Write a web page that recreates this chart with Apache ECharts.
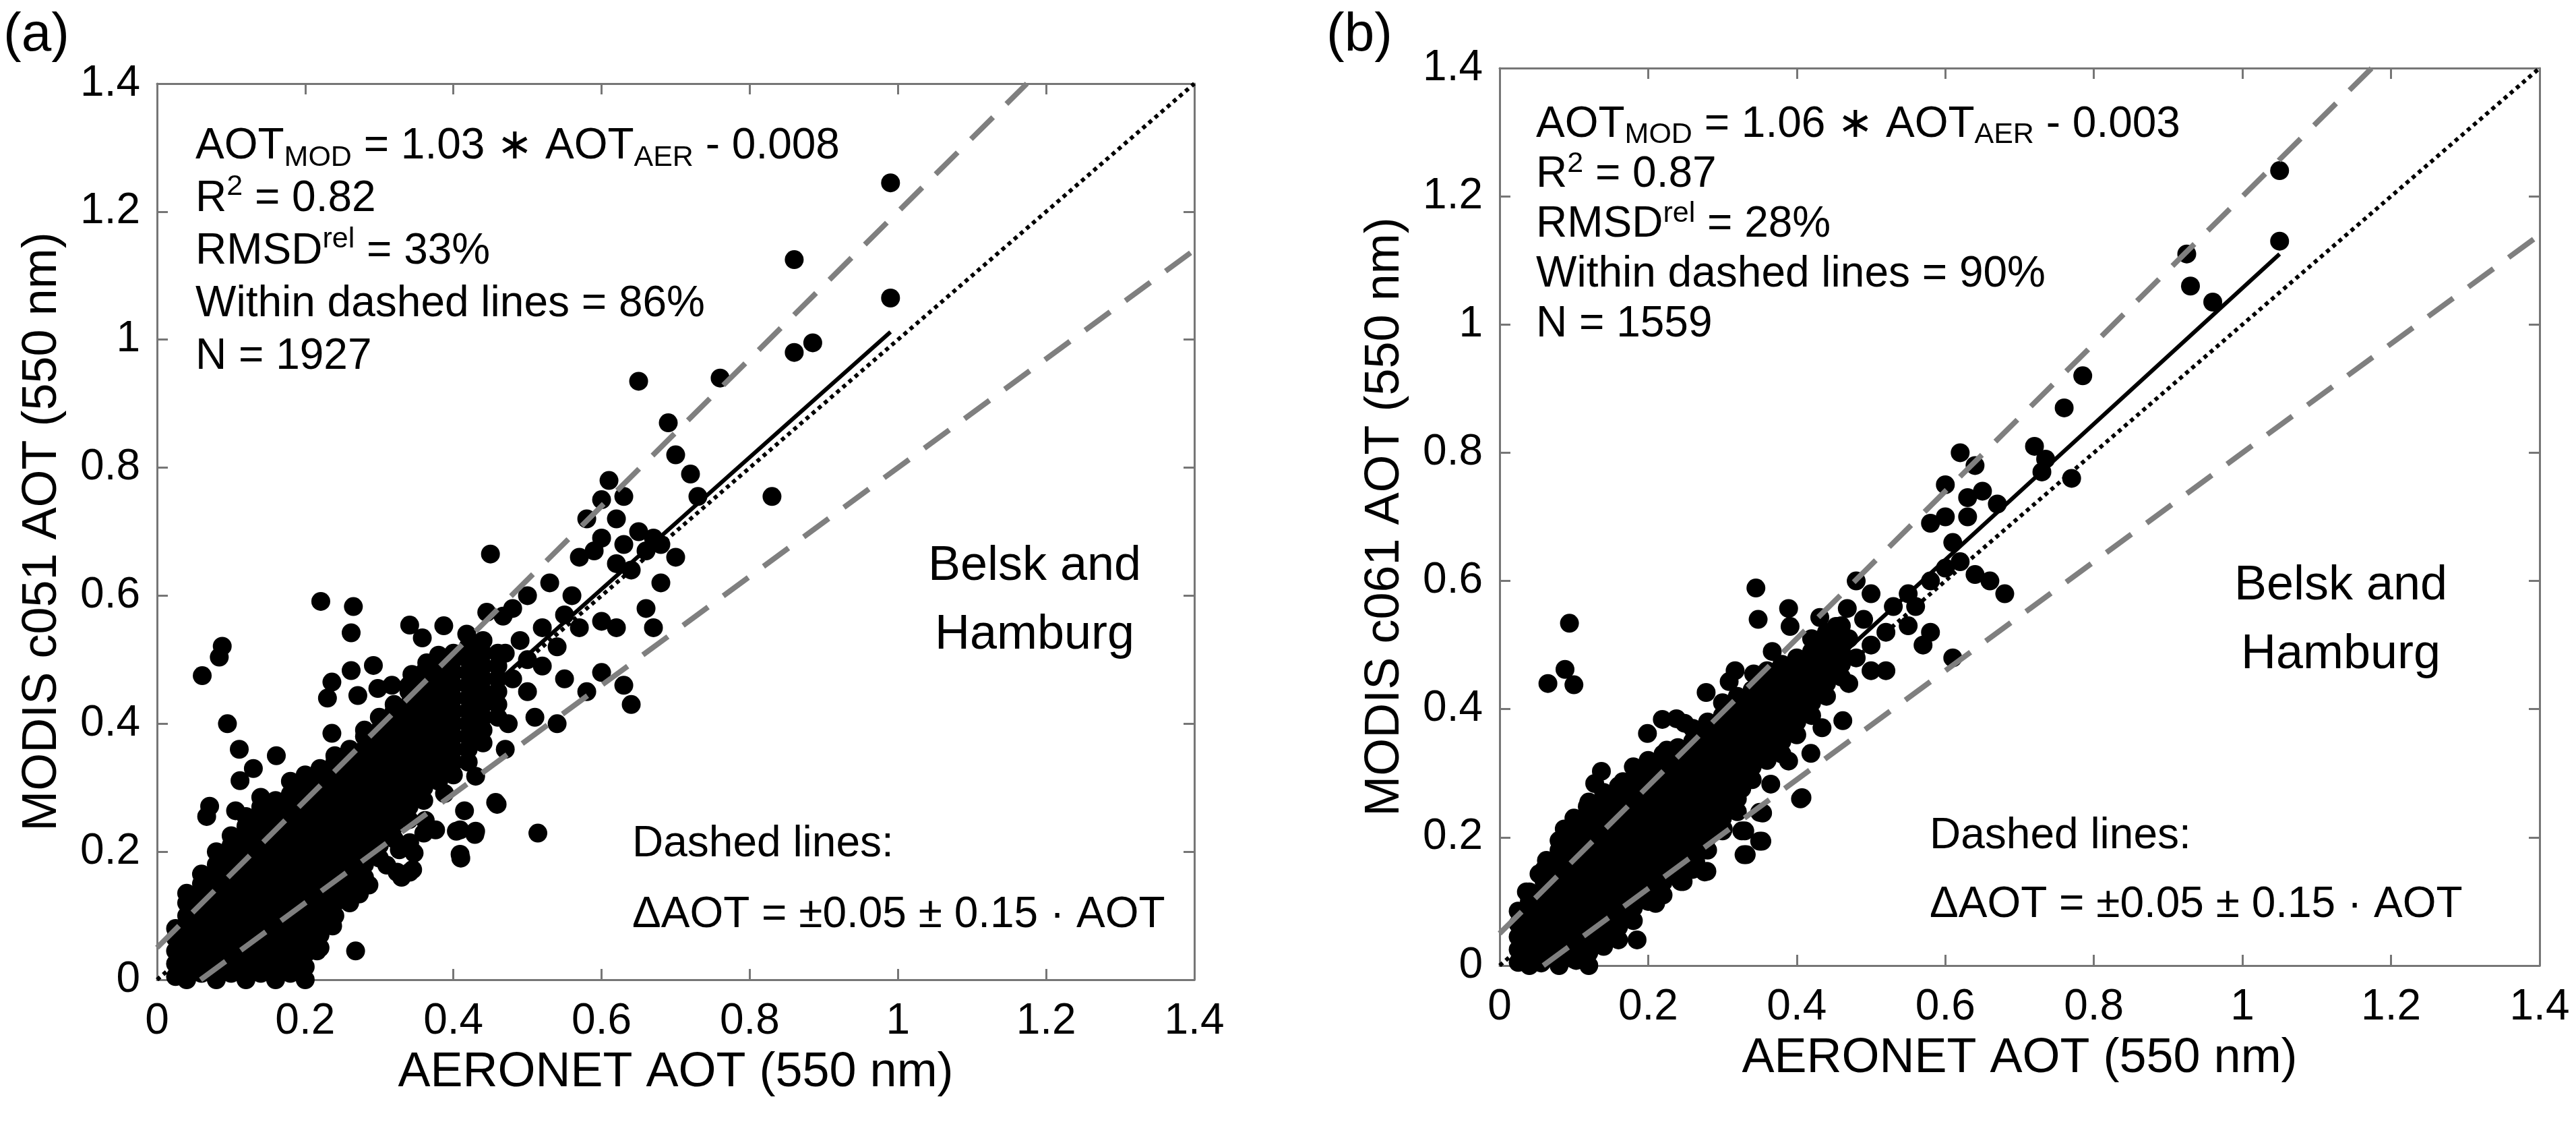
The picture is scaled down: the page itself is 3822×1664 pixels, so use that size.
<!DOCTYPE html>
<html><head><meta charset="utf-8">
<script src="https://cdn.jsdelivr.net/npm/echarts@6/dist/echarts.min.js"></script>
<style>html,body{margin:0;padding:0;background:#fff}#c{width:3822px;height:1664px}</style>
</head><body><div id="c"></div><script>
// ---- axis range / ticks ----
const axisMin = 0, axisMax = 1.4, tickStep = 0.2;

// ---- panel (a): dense core, columns [x, y1, y2, ...] ----
const coreA = [
[0.025,0.005,0.025,0.045,0.065,0.08],
[0.04,0.0,0.02,0.04,0.06,0.08,0.10,0.12,0.135],
[0.06,0.01,0.03,0.05,0.07,0.09,0.11,0.13,0.15,0.165],
[0.08,0.0,0.02,0.04,0.06,0.08,0.10,0.12,0.14,0.16,0.18,0.20],
[0.10,0.01,0.03,0.05,0.07,0.09,0.11,0.13,0.15,0.17,0.19,0.21,0.225],
[0.12,0.0,0.02,0.04,0.06,0.08,0.10,0.12,0.14,0.16,0.18,0.20,0.22,0.24,0.255],
[0.14,0.01,0.03,0.05,0.07,0.09,0.11,0.13,0.15,0.17,0.19,0.21,0.23,0.25,0.27,0.285],
[0.16,0.0,0.02,0.04,0.06,0.08,0.10,0.12,0.14,0.16,0.18,0.20,0.22,0.24,0.26,0.28],
[0.18,0.01,0.03,0.05,0.07,0.09,0.11,0.13,0.15,0.17,0.19,0.21,0.23,0.25,0.27,0.29,0.31],
[0.20,0.0,0.02,0.04,0.06,0.08,0.10,0.12,0.14,0.16,0.18,0.20,0.22,0.24,0.26,0.28,0.30,0.32],
[0.22,0.05,0.07,0.09,0.11,0.13,0.15,0.17,0.19,0.21,0.23,0.25,0.27,0.29,0.31,0.33],
[0.24,0.10,0.12,0.14,0.16,0.18,0.20,0.22,0.24,0.26,0.28,0.30,0.32,0.34,0.35],
[0.26,0.12,0.13,0.15,0.17,0.19,0.21,0.23,0.25,0.27,0.29,0.31,0.33,0.35,0.36],
[0.28,0.15,0.16,0.18,0.20,0.22,0.24,0.26,0.28,0.30,0.32,0.34,0.36,0.38,0.39],
[0.30,0.19,0.21,0.23,0.25,0.27,0.29,0.31,0.33,0.35,0.37,0.39,0.41],
[0.32,0.22,0.24,0.26,0.28,0.30,0.32,0.34,0.36,0.38,0.40,0.42,0.43],
[0.34,0.25,0.27,0.29,0.31,0.33,0.35,0.37,0.39,0.41,0.43,0.45,0.46],
[0.36,0.28,0.30,0.32,0.34,0.36,0.38,0.40,0.42,0.44,0.46,0.48],
[0.38,0.31,0.33,0.35,0.37,0.39,0.41,0.43,0.45,0.47,0.49],
[0.40,0.32,0.34,0.36,0.38,0.40,0.42,0.44,0.46,0.48,0.50,0.51],
[0.42,0.34,0.36,0.38,0.40,0.42,0.44,0.46,0.48,0.50,0.52],
[0.44,0.37,0.39,0.41,0.43,0.45,0.47,0.49,0.51,0.53],
[0.46,0.41,0.43,0.45,0.47,0.49,0.51]
];
// ---- panel (a): scattered points ----
const looseA = [
[0.221,0.591],[0.265,0.583],[0.262,0.542],[0.088,0.521],[0.084,0.504],[0.061,0.475],
[0.341,0.554],[0.358,0.534],[0.387,0.553],[0.418,0.540],[0.445,0.574],[0.467,0.568],
[0.292,0.491],[0.262,0.483],[0.236,0.465],[0.230,0.440],[0.271,0.444],[0.298,0.455],[0.317,0.460],
[0.344,0.477],[0.364,0.495],[0.380,0.507],[0.095,0.400],[0.111,0.360],[0.161,0.350],[0.130,0.330],[0.112,0.311],
[0.236,0.385],[0.071,0.271],[0.067,0.255],[0.106,0.264],
[0.459,0.274],[0.410,0.190],[0.429,0.227],[0.409,0.234],[0.376,0.234],[0.360,0.229],[0.415,0.264],
[0.347,0.198],[0.324,0.168],[0.345,0.172],[0.327,0.203],[0.286,0.148],[0.273,0.134],[0.251,0.131],
[0.430,0.318],[0.455,0.435],[0.474,0.400],[0.470,0.360],
[0.514,0.229],[0.268,0.045],[0.404,0.232],[0.409,0.196],[0.430,0.232],[0.457,0.277],[0.341,0.168],[0.330,0.160],
[0.237,0.084],[0.216,0.045],[0.247,0.130],[0.279,0.154],[0.310,0.179],[0.341,0.214],[0.362,0.249],[0.388,0.291],
[0.99,1.245],[0.99,1.065],[0.86,1.125],[0.86,0.98],[0.885,0.995],[0.83,0.755],[0.76,0.94],[0.65,0.935],
[0.69,0.87],[0.70,0.82],[0.72,0.79],[0.73,0.755],
[0.61,0.78],[0.63,0.755],[0.60,0.75],[0.58,0.72],[0.62,0.72],[0.65,0.70],[0.67,0.69],[0.60,0.69],[0.59,0.67],
[0.63,0.68],[0.66,0.67],[0.68,0.68],[0.57,0.66],[0.62,0.65],[0.64,0.64],[0.70,0.66],
[0.56,0.60],[0.53,0.62],[0.50,0.60],[0.48,0.58],[0.55,0.57],[0.57,0.55],[0.60,0.56],[0.62,0.55],[0.66,0.58],[0.68,0.62],
[0.55,0.47],[0.58,0.45],[0.60,0.48],[0.63,0.46],[0.64,0.43],[0.67,0.55],
[0.45,0.665],[0.52,0.55],[0.50,0.50],[0.48,0.47],[0.50,0.45],[0.52,0.49],[0.54,0.52],[0.49,0.53],[0.47,0.51],[0.51,0.41],[0.54,0.40]
];

// ---- panel (b): dense core ----
const coreB = [
[0.025,0.005,0.025,0.045,0.065,0.085],
[0.04,0.0,0.02,0.04,0.06,0.08,0.10,0.115],
[0.06,0.01,0.03,0.05,0.07,0.09,0.11,0.13,0.15],
[0.08,0.0,0.02,0.04,0.06,0.08,0.10,0.12,0.14,0.16,0.18,0.195],
[0.10,0.01,0.03,0.05,0.07,0.09,0.11,0.13,0.15,0.17,0.19,0.21,0.23],
[0.12,0.0,0.02,0.04,0.06,0.08,0.10,0.12,0.14,0.16,0.18,0.20,0.22,0.24,0.255],
[0.14,0.03,0.05,0.07,0.09,0.11,0.13,0.15,0.17,0.19,0.21,0.23,0.25,0.27],
[0.16,0.04,0.06,0.08,0.10,0.12,0.14,0.16,0.18,0.20,0.22,0.24,0.26,0.28],
[0.18,0.07,0.09,0.11,0.13,0.15,0.17,0.19,0.21,0.23,0.25,0.27,0.29,0.31],
[0.20,0.10,0.12,0.14,0.16,0.18,0.20,0.22,0.24,0.26,0.28,0.30,0.32],
[0.22,0.11,0.13,0.15,0.17,0.19,0.21,0.23,0.25,0.27,0.29,0.31,0.33],
[0.24,0.14,0.16,0.18,0.20,0.22,0.24,0.26,0.28,0.30,0.32,0.34],
[0.26,0.15,0.17,0.19,0.21,0.23,0.25,0.27,0.29,0.31,0.33,0.35,0.37],
[0.28,0.18,0.20,0.22,0.24,0.26,0.28,0.30,0.32,0.34,0.36,0.38],
[0.30,0.21,0.23,0.25,0.27,0.29,0.31,0.33,0.35,0.37,0.39,0.41],
[0.32,0.24,0.26,0.28,0.30,0.32,0.34,0.36,0.38,0.40,0.42],
[0.34,0.29,0.31,0.33,0.35,0.37,0.39,0.41,0.43],
[0.36,0.32,0.34,0.36,0.38,0.40,0.42,0.44,0.46],
[0.38,0.33,0.35,0.37,0.39,0.41,0.43,0.45,0.47],
[0.40,0.36,0.38,0.40,0.42,0.44,0.46,0.48],
[0.42,0.39,0.41,0.43,0.45,0.47,0.49,0.51],
[0.44,0.42,0.44,0.46,0.48,0.50,0.52],
[0.46,0.45,0.47,0.49,0.51,0.53]
];
// ---- panel (b): scattered points ----
const looseB = [
[0.345,0.589],[0.094,0.534],[0.088,0.462],[0.065,0.440],[0.100,0.438],[0.389,0.557],[0.348,0.540],[0.391,0.529],
[0.431,0.543],[0.453,0.529],[0.468,0.557],[0.367,0.490],[0.317,0.460],[0.309,0.443],[0.342,0.455],[0.278,0.426],
[0.219,0.384],[0.238,0.385],[0.249,0.378],[0.199,0.362],[0.225,0.336],[0.137,0.303],[0.128,0.284],[0.166,0.287],
[0.118,0.248],[0.087,0.213],[0.063,0.164],[0.053,0.143],[0.036,0.115],
[0.407,0.262],[0.354,0.238],[0.330,0.210],[0.353,0.194],[0.332,0.173],[0.279,0.147],[0.247,0.131],[0.264,0.162],
[0.365,0.283],[0.326,0.276],[0.389,0.319],[0.419,0.331],[0.462,0.382],[0.434,0.371],
[0.185,0.040],[0.210,0.097],[0.244,0.131],[0.276,0.146],[0.259,0.164],[0.329,0.173],[0.350,0.194],[0.326,0.210],
[0.350,0.239],[0.405,0.260],[0.032,0.006],[0.103,0.008],[0.056,0.004],[0.310,0.245],[0.301,0.213],
[1.05,1.24],[1.05,1.13],[0.925,1.11],[0.93,1.06],[0.96,1.035],[0.785,0.92],[0.76,0.87],[0.72,0.81],[0.735,0.79],
[0.73,0.77],[0.77,0.76],
[0.62,0.80],[0.64,0.78],[0.60,0.75],[0.65,0.74],[0.63,0.73],[0.60,0.70],[0.58,0.69],[0.63,0.70],[0.67,0.72],
[0.61,0.66],[0.62,0.63],[0.60,0.62],[0.64,0.61],[0.66,0.60],[0.68,0.58],[0.58,0.60],[0.55,0.58],[0.53,0.56],
[0.50,0.58],[0.48,0.60],[0.52,0.52],[0.55,0.53],[0.57,0.50],[0.61,0.48],[0.58,0.52],[0.50,0.50],[0.48,0.48],
[0.50,0.46],[0.47,0.44],[0.52,0.46],[0.49,0.54],[0.47,0.51],[0.56,0.56]
];

// ---- reference / fit lines (end points) ----
const oneToOne   = [[0,0],[1.4,1.4]];
const envUpper   = [[0,0.05],[1.174,1.4]];
const envLower   = [[0.0588,0],[1.4,1.14]];
const fitA       = [[0.02,0.0126],[0.99,1.012]];
const fitB       = [[0.02,0.0182],[1.05,1.110]];

// ---- texts ----
const statsA = ['1.03','0.008','0.82','33%','86%','1927'];
const statsB = ['1.06','0.003','0.87','28%','90%','1559'];
const yNameA = 'MODIS c051 AOT (550 nm)';
const yNameB = 'MODIS c061 AOT (550 nm)';
const xName  = 'AERONET AOT (550 nm)';

const FONT = '"Liberation Sans", Arial, Helvetica, sans-serif';
const AXC = '#767676';

function expand(core){ const out=[]; core.forEach(c=>{ for(let i=1;i<c.length;i++) out.push([c[0],c[i]]); }); return out; }
const ptsA = expand(coreA).concat(looseA);
const ptsB = expand(coreB).concat(looseB);

function xAx(gi, bottom, name){
  return {type:'value', gridIndex:gi, min:axisMin, max:axisMax, interval:tickStep,
    position: bottom?'bottom':'top',
    name: bottom?name:'', nameLocation:'middle', nameGap:102,
    nameTextStyle:{fontSize:72, color:'#000', fontFamily:FONT},
    axisLine:{show:true, onZero:false, lineStyle:{color:AXC, width:3}},
    axisTick:{show:true, inside:true, length:16, lineStyle:{color:AXC, width:3}},
    axisLabel:{show:bottom, fontSize:64, color:'#000', fontFamily:FONT, margin:30},
    splitLine:{show:false}};
}
function yAx(gi, left, name){
  return {type:'value', gridIndex:gi, min:axisMin, max:axisMax, interval:tickStep,
    position: left?'left':'right',
    name: left?name:'', nameLocation:'middle', nameGap:134, nameRotate:90,
    nameTextStyle:{fontSize:72, color:'#000', fontFamily:FONT},
    axisLine:{show:true, onZero:false, lineStyle:{color:AXC, width:3}},
    axisTick:{show:true, inside:true, length:16, lineStyle:{color:AXC, width:3}},
    axisLabel:{show:left, fontSize:64, color:'#000', fontFamily:FONT, margin:25},
    splitLine:{show:false}};
}
function lineS(xi, data, style, z){
  return {type:'line', xAxisIndex:xi, yAxisIndex:xi, data:data, symbol:'none', showSymbol:false,
    silent:true, z:z, lineStyle:style, animation:false};
}
const dashStyle = {color:'#7f7f7f', width:8, type:[46,28], opacity:1};
const dotStyle  = {color:'#000', width:6, type:[6,6], opacity:1};
const fitStyle  = {color:'#000', width:6, type:'solid', opacity:1};
const dotItem   = {color:'#000', opacity:1, borderWidth:0};

function statsText(s){
  return '{m|AOT}{s|MOD}{m| = '+s[0]+' ∗ AOT}{s|AER}{m| - '+s[1]+'}\n'+
         '{m|R}{p|2}{m| = '+s[2]+'}\n'+
         '{m|RMSD}{p|rel}{m| = '+s[3]+'}\n'+
         '{m|Within dashed lines = '+s[4]+'}\n'+
         '{m|N = '+s[5]+'}';
}
function richDef(lh){
  return {m:{fontSize:64, lineHeight:lh, fontFamily:FONT, fill:'#000'},
          s:{fontSize:43, lineHeight:43, verticalAlign:'bottom', fontFamily:FONT, fill:'#000'},
          p:{fontSize:43, lineHeight:56, verticalAlign:'top', fontFamily:FONT, fill:'#000'}};
}
function txt(x, y, text, size, lh, align){
  return {type:'text', x:x, y:y, silent:true,
    style:{text:text, fontSize:size, lineHeight:lh, fontFamily:FONT, fill:'#000',
           textAlign:align||'left', textVerticalAlign:'top'}};
}

const chart = echarts.init(document.getElementById('c'), null, {renderer:'canvas'});
chart.setOption({
  animation:false,
  backgroundColor:'#fff',
  grid:[
    {left:233, top:124, width:1539, height:1329},
    {left:2225, top:101, width:1543, height:1331}
  ],
  xAxis:[xAx(0,true,xName), xAx(0,false,''), xAx(1,true,xName), xAx(1,false,'')],
  yAxis:[yAx(0,true,yNameA), yAx(0,false,''), yAx(1,true,yNameB), yAx(1,false,'')],
  series:[
    {type:'scatter', xAxisIndex:0, yAxisIndex:0, data:ptsA, symbol:'circle', symbolSize:28,
     itemStyle:dotItem, silent:true, z:2},
    lineS(0, envUpper, dashStyle, 4), lineS(0, envLower, dashStyle, 4),
    lineS(0, oneToOne, dotStyle, 5), lineS(0, fitA, fitStyle, 5),
    {type:'scatter', xAxisIndex:2, yAxisIndex:2, data:ptsB, symbol:'circle', symbolSize:28,
     itemStyle:dotItem, silent:true, z:2},
    lineS(2, envUpper, dashStyle, 4), lineS(2, envLower, dashStyle, 4),
    lineS(2, oneToOne, dotStyle, 5), lineS(2, fitB, fitStyle, 5)
  ],
  graphic:[
    txt(5, 5, '(a)', 80, 96),
    txt(1968, 5, '(b)', 80, 96),
    {type:'text', x:290, y:178, silent:true, style:{text:statsText(statsA), fontSize:64, lineHeight:78, fontFamily:FONT, fill:'#000', rich:richDef(78), textVerticalAlign:'top'}},
    {type:'text', x:2279, y:148, silent:true, style:{text:statsText(statsB), fontSize:64, lineHeight:74, fontFamily:FONT, fill:'#000', rich:richDef(74), textVerticalAlign:'top'}},
    txt(1535, 789, 'Belsk and\nHamburg', 72, 102, 'center'),
    txt(3473, 818, 'Belsk and\nHamburg', 72, 102, 'center'),
    txt(938, 1200, 'Dashed lines:\nΔAOT = ±0.05 ± 0.15 · AOT', 64, 105),
    txt(2863, 1189, 'Dashed lines:\nΔAOT = ±0.05 ± 0.15 · AOT', 64, 102)
  ]
});
</script></body></html>
